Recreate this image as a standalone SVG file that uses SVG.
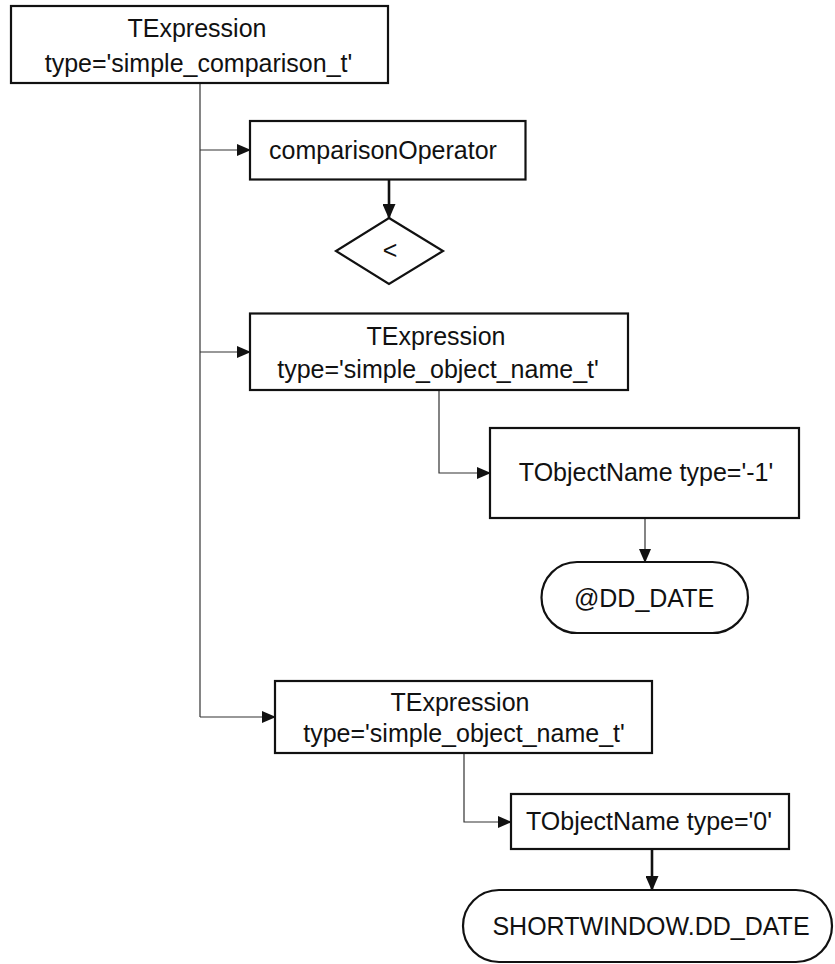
<svg xmlns="http://www.w3.org/2000/svg" width="835" height="964" viewBox="0 0 835 964">
  <style>
    .box { fill: #ffffff; stroke: #111111; stroke-width: 2.2; }
    .lbl { font-family: "Liberation Sans", Arial, sans-serif; font-size: 25px; fill: #111111; text-anchor: middle; }
    .edge { fill: none; stroke: #333333; stroke-width: 1.2; }
    .edge-bold { fill: none; stroke: #111111; stroke-width: 2.6; }
  </style>
  <defs>
    <marker id="arrow" markerUnits="userSpaceOnUse" markerWidth="14" markerHeight="12" refX="13" refY="6" orient="auto">
      <path d="M0,0 L14,6 L0,12 Z" fill="#111111"/>
    </marker>
    <marker id="arrow-bold" markerUnits="userSpaceOnUse" markerWidth="15" markerHeight="13" refX="14" refY="6.5" orient="auto">
      <path d="M0,0 L15,6.5 L0,13 Z" fill="#111111"/>
    </marker>
  </defs>

  <g id="connectors">
    <!-- trunk from the root expression -->
    <path class="edge" d="M200,83 V717"/>
    <path class="edge" d="M200,150 H250" marker-end="url(#arrow)"/>
    <path class="edge" d="M200,352 H250" marker-end="url(#arrow)"/>
    <path class="edge" d="M200,717 H275" marker-end="url(#arrow)"/>
    <!-- operator value -->
    <path class="edge-bold" d="M389,180 V218" marker-end="url(#arrow-bold)"/>
    <!-- first operand -->
    <path class="edge" d="M439,390 V473 H490" marker-end="url(#arrow)"/>
    <path class="edge" d="M645,518 V562" marker-end="url(#arrow)"/>
    <!-- second operand -->
    <path class="edge" d="M464,753 V822 H511" marker-end="url(#arrow)"/>
    <path class="edge-bold" d="M652,849 V890" marker-end="url(#arrow-bold)"/>
  </g>

  <g id="root-expression">
    <rect class="box" x="11" y="6" width="377" height="77"/>
    <text class="lbl" x="197" y="37">TExpression</text>
    <text class="lbl" x="198.5" y="72">type='simple_comparison_t'</text>
  </g>

  <g id="comparison-operator">
    <rect class="box" x="250" y="121" width="275.5" height="58.5"/>
    <text class="lbl" x="383" y="159">comparisonOperator</text>
  </g>

  <g id="operator-value">
    <polygon class="box" points="389,218 443,251 389,284 336,251"/>
    <text class="lbl" x="390" y="259">&lt;</text>
  </g>

  <g id="left-expression">
    <rect class="box" x="250" y="313.5" width="378" height="76.5"/>
    <text class="lbl" x="436" y="345">TExpression</text>
    <text class="lbl" x="438" y="378">type='simple_object_name_t'</text>
  </g>

  <g id="left-object-name">
    <rect class="box" x="490" y="428" width="309" height="90"/>
    <text class="lbl" x="646" y="481">TObjectName type='-1'</text>
  </g>

  <g id="left-value">
    <rect class="box" x="541.5" y="562" width="206.5" height="71" rx="35.5" ry="35.5"/>
    <text class="lbl" x="644" y="607">@DD_DATE</text>
  </g>

  <g id="right-expression">
    <rect class="box" x="275" y="681" width="377" height="72"/>
    <text class="lbl" x="460" y="711">TExpression</text>
    <text class="lbl" x="464" y="742">type='simple_object_name_t'</text>
  </g>

  <g id="right-object-name">
    <rect class="box" x="511" y="794" width="278" height="55"/>
    <text class="lbl" x="649" y="830">TObjectName type='0'</text>
  </g>

  <g id="right-value">
    <rect class="box" x="463" y="890" width="369" height="72" rx="36" ry="36"/>
    <text class="lbl" x="651" y="935">SHORTWINDOW.DD_DATE</text>
  </g>
</svg>
